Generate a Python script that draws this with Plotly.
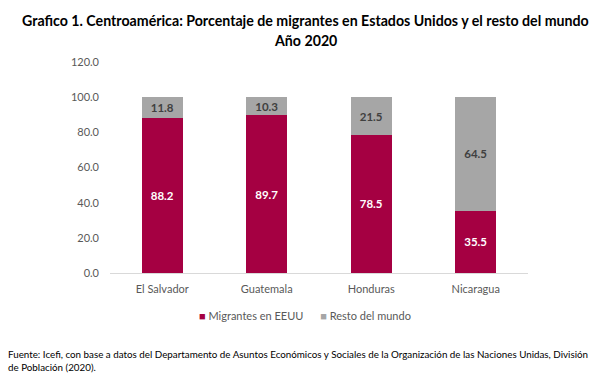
import plotly.graph_objects as go

categories = ["El Salvador", "Guatemala", "Honduras", "Nicaragua"]
eeuu = [88.2, 89.7, 78.5, 35.5]
resto = [11.8, 10.3, 21.5, 64.5]
y_ticks = [0, 20, 40, 60, 80, 100, 120]
series_names = ["Migrantes en EEUU", "Resto del mundo"]
series_colors = ["#A50042", "#A6A6A6"]
title_lines = [
    "Grafico 1. Centroamérica: Porcentaje de migrantes en Estados Unidos y el resto del mundo",
    "Año 2020",
]

FONT = "Lato"
fig = go.Figure()
fig.add_trace(go.Bar(
    x=categories, y=eeuu, name=series_names[0],
    marker=dict(color=series_colors[0], line=dict(width=0)),
    texttemplate="%{y:.1f}", textposition="inside", insidetextanchor="middle",
    constraintext="none",
    textfont=dict(color="white", size=11.5, family=FONT, weight="bold"),
    width=0.39,
))
fig.add_trace(go.Bar(
    x=categories, y=resto, name=series_names[1],
    marker=dict(color=series_colors[1], line=dict(width=0)),
    texttemplate="%{y:.1f}", textposition="inside", insidetextanchor="middle",
    constraintext="none",
    textfont=dict(color="#404040", size=11.5, family=FONT, weight="bold"),
    width=0.39,
))
fig.update_layout(
    barmode="stack",
    width=611, height=378,
    margin=dict(l=110, r=83, t=62, b=105, autoexpand=False),
    paper_bgcolor="white", plot_bgcolor="white",
    font=dict(family=FONT, color="#595959", size=11),
    xaxis=dict(showline=True, linecolor="#D9D9D9", linewidth=1, ticks="",
               ticklabelstandoff=6,
               tickfont=dict(size=11, color="#595959"), range=[-0.5, 3.5]),
    yaxis=dict(range=[0, 120], tickvals=y_ticks, tickformat=".1f", showgrid=False,
               zeroline=False, showline=False, ticks="", ticklabelstandoff=10,
               tickfont=dict(size=11, color="#595959")),
    showlegend=False,
)
for line, ypos in zip(title_lines, [1.199, 1.104]):
    fig.add_annotation(
        text=f"<b>{line}</b>", xref="paper", yref="paper", x=0.468, y=ypos,
        xanchor="center", yanchor="middle", showarrow=False,
        font=dict(size=14.2, color="black", family=FONT),
    )
legend_text = (
    f'<span style="color:{series_colors[0]}">■</span> {series_names[0]}'
    f'      <span style="color:{series_colors[1]}">■</span> {series_names[1]}'
)
fig.add_annotation(
    text=legend_text, xref="paper", yref="paper", x=0.466, y=-0.2,
    xanchor="center", yanchor="middle", showarrow=False,
    font=dict(size=11, color="#595959", family=FONT),
)
fig.add_annotation(
    text="Fuente: Icefi, con base a datos del Departamento de Asuntos Económicos y Sociales de la Organización de las Naciones Unidas, División<br>de Población (2020).",
    xref="paper", yref="paper", x=-0.249, y=-0.345, xanchor="left", yanchor="top",
    align="left", showarrow=False, font=dict(size=9.8, color="black", family=FONT),
)
fig.write_html("out.html", config={"displayModeBar": False},
               post_script="document.body.style.margin='0';")
